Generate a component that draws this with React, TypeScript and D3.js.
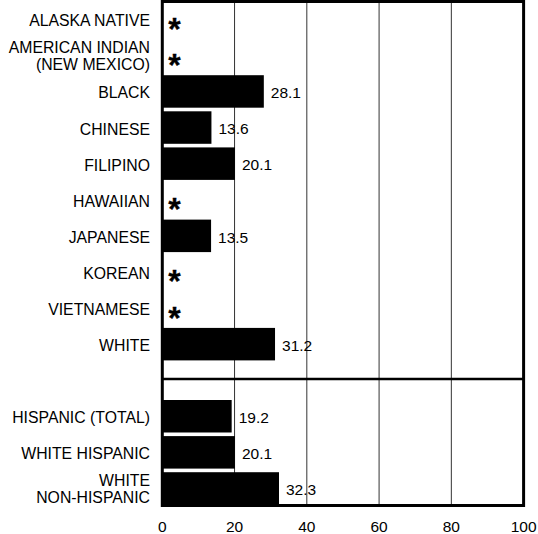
import React from "react";
import * as d3 from "d3";

const topCategories = [
  "ALASKA NATIVE",
  "AMERICAN INDIAN|(NEW MEXICO)",
  "BLACK",
  "CHINESE",
  "FILIPINO",
  "HAWAIIAN",
  "JAPANESE",
  "KOREAN",
  "VIETNAMESE",
  "WHITE",
];
const topValues: (number | null)[] = [null, null, 28.1, 13.6, 20.1, null, 13.5, null, null, 31.2];

const bottomCategories = ["HISPANIC (TOTAL)", "WHITE HISPANIC", "WHITE|NON-HISPANIC"];
const bottomValues: (number | null)[] = [19.2, 20.1, 32.3];

const xTicks = [0, 20, 40, 60, 80, 100];

const W = 538;
const H = 534;
const FONT = "'Liberation Sans', Arial, Helvetica, sans-serif";

export default function App() {
  const x = d3.scaleLinear().domain([0, 100]).range([162.3, 523.6]);
  const yTop = d3.scaleBand<string>().domain(topCategories).range([3, 360.4]).paddingInner(0.1).paddingOuter(0);
  const yBot = d3.scaleBand<string>().domain(bottomCategories).range([400, 504.7]).paddingInner(0.1).paddingOuter(0);

  const plotTop = 1.5;
  const plotBottom = 505.5;
  const sepY = 379;

  const renderRows = (cats: string[], vals: (number | null)[], y: d3.ScaleBand<string>) =>
    cats.map((c, i) => {
      const v = vals[i];
      const y0 = y(c)!;
      const bw = y.bandwidth();
      const cy = y0 + bw / 2;
      const lines = c.split("|");
      return (
        <g key={c}>
          {lines.length === 1 ? (
            <text x={150} y={cy + 7} textAnchor="end" fontSize={15.8} fontFamily={FONT} fill="#000">
              {lines[0]}
            </text>
          ) : (
            <text textAnchor="end" fontSize={15.8} fontFamily={FONT} fill="#000">
              <tspan x={150} y={cy - 2.5}>{lines[0]}</tspan>
              <tspan x={150} y={cy + 15}>{lines[1]}</tspan>
            </text>
          )}
          {v === null ? (
            <text
              x={174.5}
              y={cy + 20.5}
              textAnchor="middle"
              fontSize={32}
              fontWeight="bold"
              fontFamily={FONT}
              fill="#000"
              stroke="#000"
              strokeWidth={0.3}
            >
              *
            </text>
          ) : (
            <g>
              <rect x={x(0)} y={y0} width={x(v) - x(0)} height={bw} fill="#000" />
              <text x={x(v) + 7} y={cy + 6.8} fontSize={15.5} fontFamily={FONT} fill="#000">
                {v.toFixed(1)}
              </text>
            </g>
          )}
        </g>
      );
    });

  return (
    <svg width={W} height={H} style={{ position: "absolute", left: 0, top: 0, background: "#fff" }}>
      <rect width={W} height={H} fill="#fff" />
      {xTicks.slice(1, -1).map((t) => (
        <line key={t} x1={x(t)} x2={x(t)} y1={plotTop} y2={plotBottom} stroke="#333" strokeWidth={1} />
      ))}
      {renderRows(topCategories, topValues, yTop)}
      {renderRows(bottomCategories, bottomValues, yBot)}
      <line x1={x(0)} x2={x(100)} y1={sepY} y2={sepY} stroke="#000" strokeWidth={2.5} />
      <rect
        x={x(0)}
        y={plotTop}
        width={x(100) - x(0)}
        height={plotBottom - plotTop}
        fill="none"
        stroke="#000"
        strokeWidth={3}
      />
      {xTicks.map((t) => (
        <text key={t} x={x(t)} y={531.5} textAnchor="middle" fontSize={15.5} fontFamily={FONT} fill="#000">
          {t}
        </text>
      ))}
    </svg>
  );
}
